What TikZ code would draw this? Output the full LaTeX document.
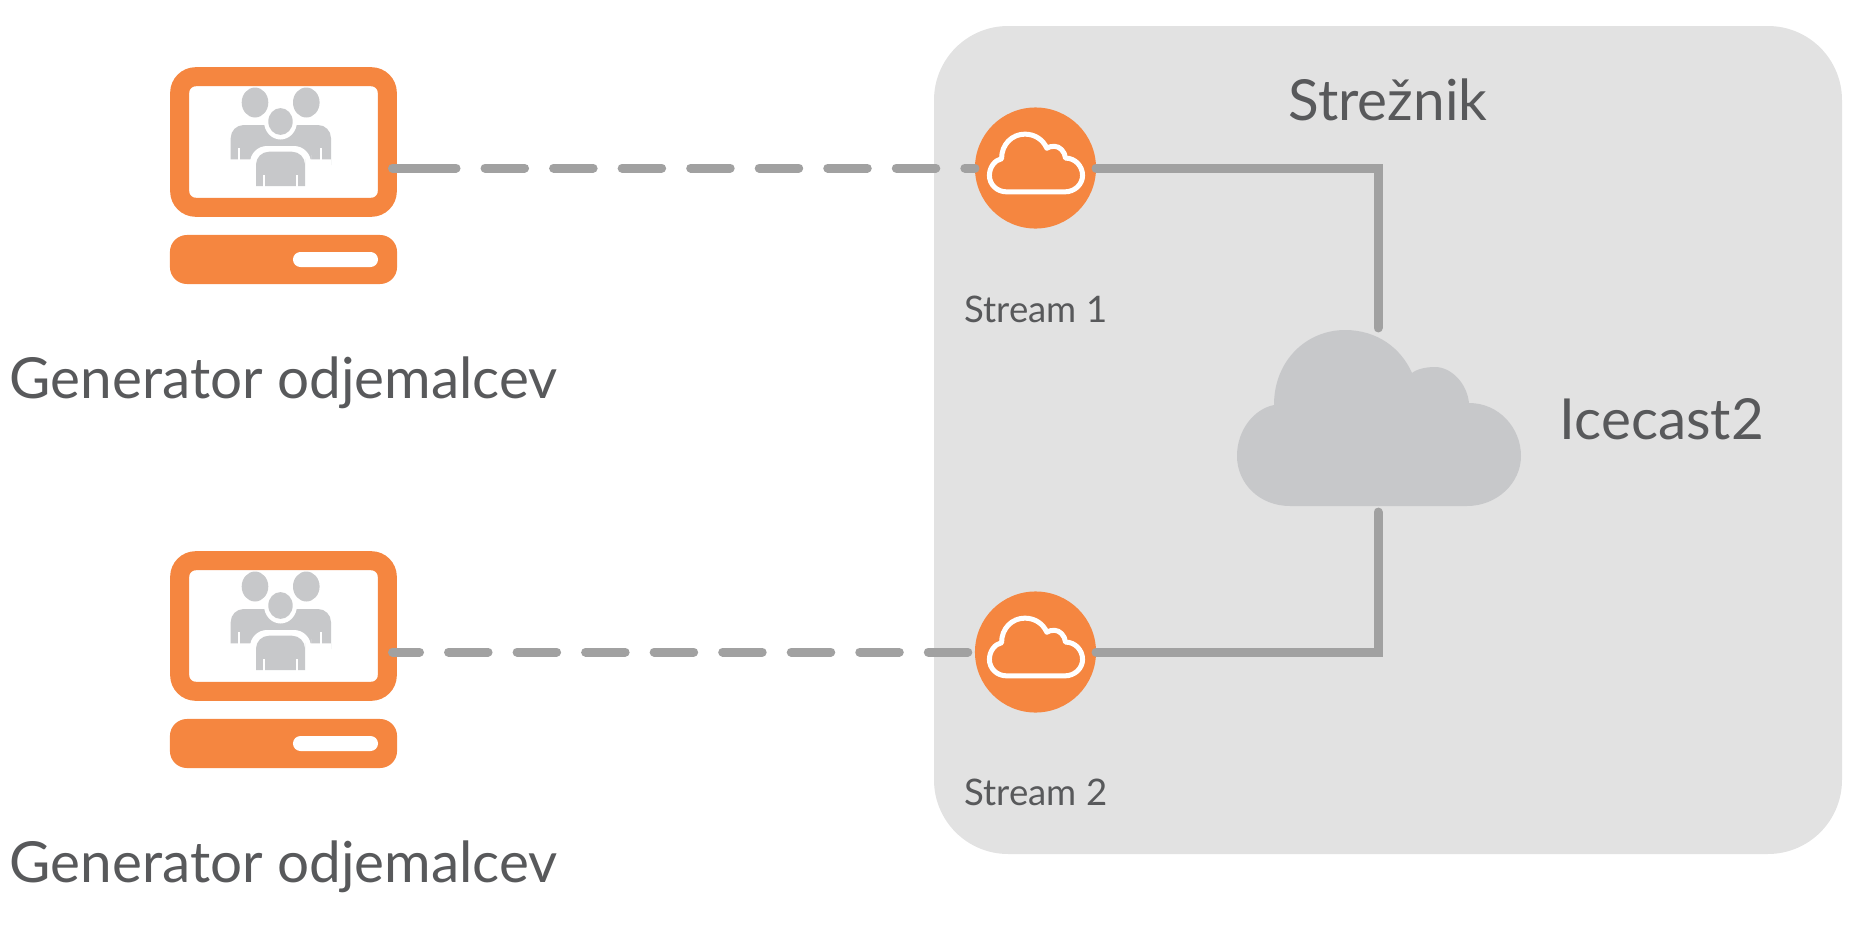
\documentclass[tikz,border=0pt]{standalone}
\usepackage{fontspec}
\setmainfont{Lato}
\usetikzlibrary{positioning, calc}

\definecolor{genorange}{HTML}{F58640}
\definecolor{zonegray}{HTML}{E2E2E2}
\definecolor{linegray}{HTML}{A1A1A1}
\definecolor{shapegray}{HTML}{C7C8CA}
\definecolor{labelgray}{HTML}{58595B}

\newcommand{\cloudoutline}{(-89,88) .. controls (-120,88) and (-142,65) .. (-142,38)
  .. controls (-142,12) and (-125,-9) .. (-105,-13)
  .. controls (-105,-58) and (-72,-88) .. (-34,-88)
  .. controls (-2,-88) and (22,-70) .. (33,-45)
  .. controls (38,-49) and (47,-51) .. (56,-51)
  .. controls (72,-51) and (88,-35) .. (90,-15)
  .. controls (120,-15) and (142,10) .. (142,38)
  .. controls (142,65) and (118,88) .. (88,88) -- cycle}

\tikzset{
  monitorbox/.style={draw=genorange, line width=0.19cm, fill=white, rounded corners=0.16cm,
    minimum width=2.075cm, minimum height=1.305cm, outer sep=0pt, inner sep=0pt},
  basebox/.style={fill=genorange, rounded corners=0.17cm, minimum width=2.27cm,
    minimum height=0.49cm, outer sep=0pt, inner sep=0pt},
  slotbox/.style={fill=white, rounded corners=0.075cm, minimum width=0.85cm,
    minimum height=0.15cm, outer sep=0pt, inner sep=0pt},
  streamdot/.style={circle, fill=genorange, minimum size=1.21cm, outer sep=0pt, inner sep=0pt},
  hubbox/.style={minimum width=2.84cm, minimum height=1.84cm, outer sep=0pt, inner sep=0pt},
  link/.style={draw=linegray, line width=0.09cm, line cap=round},
  dashlink/.style={link, dash pattern=on 0.395cm off 0.29cm},
  biglabel/.style={text=labelgray, font=\fontsize{16.1pt}{19pt}\selectfont, anchor=base west, inner sep=0pt},
  smalllabel/.style={text=labelgray, font=\fontsize{10.4pt}{12pt}\selectfont, anchor=base west, inner sep=0pt},
  hubcloud/.pic={\fill[shapegray] \cloudoutline;},
  streamcloud/.pic={\draw[white, line width=0.05cm, line join=round] \cloudoutline;},
  people/.pic={
    \fill[shapegray] (-28,-39.5) ellipse [x radius=13.3, y radius=15];
    \fill[shapegray] (23.3,-39.5) ellipse [x radius=13.3, y radius=15];
    \fill[shapegray] (-52.3,17.3) [rounded corners=0.13cm] -- (-52.3,-17) -- (48,-17)
      -- (48,10) [sharp corners] -- (48,17.3) -- cycle;
    \fill[white] (-2.5,-20.5) ellipse [x radius=16.5, y radius=18];
    \fill[white] (-33,50) [rounded corners=0.17cm] -- (-33,4) -- (28,4)
      -- (28,30) [sharp corners] -- (28,50) -- cycle;
    \fill[shapegray] (-2.5,-20.5) ellipse [x radius=12.2, y radius=13.4];
    \fill[shapegray] (-27,44) [rounded corners=0.13cm] -- (-27,9.7) -- (22,9.7)
      -- (22,30) [sharp corners] -- (22,44) -- cycle;
    \foreach \slotx in {-44,38}
      \fill[white] (\slotx-1,6) rectangle (\slotx+1,18);
    \foreach \slotx in {-19,14}
      \fill[white] (\slotx-1,33) rectangle (\slotx+1,45);
  }
}

\begin{document}
\begin{tikzpicture}[x=0.01cm, y=-0.01cm]
  \useasboundingbox (0,0) rectangle (1868,930);

  % server zone
  \fill[zonegray, rounded corners=0.74cm] (934,26) rectangle (1842,854);
  \node[biglabel] (server-label) at (1288,120) {Strežnik};
  \pic at (1379,418) {hubcloud};
  \node[hubbox] (hub) at (1378,420) {};
  \node[biglabel] (hub-label) at (1559,439.5) {Icecast2};

  % generators
  \foreach \gen/\ypos in {1/0, 2/484} {
    \node[monitorbox] (monitor\gen) at (283.5,{142+\ypos}) {};
    \pic at (283,{142+\ypos}) {people};
    \node[basebox] (base\gen) at (283.5,{259.5+\ypos}) {};
    \node[slotbox] (slot\gen) at (335.5,{259.5+\ypos}) {};
    \node[biglabel] (gen-label\gen) at (9,{398+\ypos}) {Generator odjemalcev};
    \coordinate (monitor-out\gen) at (392.5,{168+\ypos});
    \node[streamdot] (stream\gen) at (1035.5,{168+\ypos}) {};
    \pic[scale=0.328] at (1036,{163+\ypos}) {streamcloud};
  }
  \node[smalllabel] (stream-label1) at (964,322) {Stream 1};
  \node[smalllabel] (stream-label2) at (964,805) {Stream 2};

  % connectors
  \draw[link, dash pattern=on 0.635cm off 0.29cm on 0.395cm off 0.29cm on 0.395cm off 0.29cm
    on 0.395cm off 0.29cm on 0.395cm off 0.29cm on 0.395cm off 0.29cm on 0.395cm off 0.29cm
    on 0.395cm off 0.29cm on 1cm off 0.29cm] (monitor-out1) -- (stream1.west);
  \draw[dashlink, dash phase=0.125cm] (monitor-out2) -- (stream2.west);
  \draw[link] (stream1.east) -| (hub.north);
  \draw[link] (stream2.east) -| (hub.south);
\end{tikzpicture}
\end{document}
